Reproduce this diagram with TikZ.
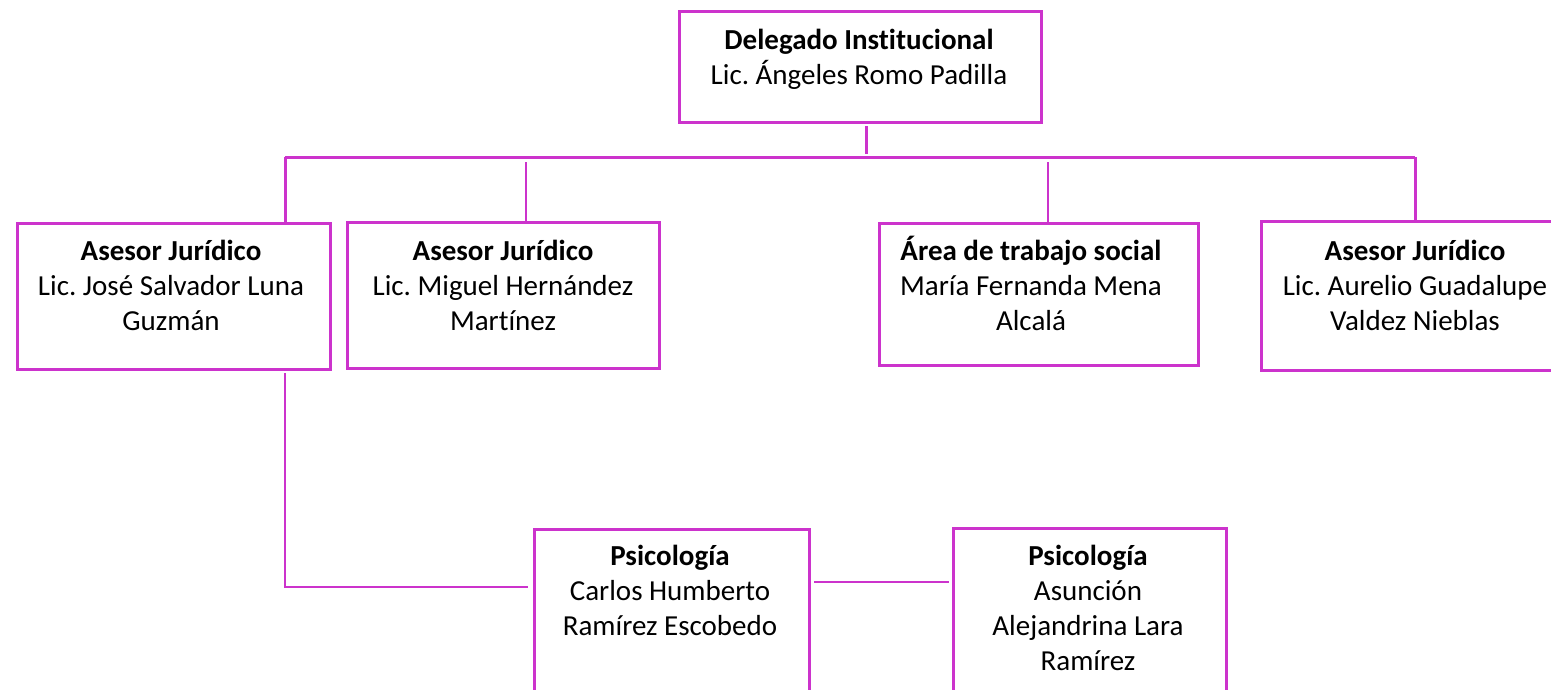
\documentclass[tikz,border=0pt]{standalone}
\usepackage{fontspec}
\setmainfont[Ligatures=NoCommon]{Carlito}
\definecolor{mag}{RGB}{204,51,204}
\begin{document}
\frenchspacing
\begin{tikzpicture}[x=1pt,y=-1pt,
  box/.style={draw=mag, line width=3pt, inner sep=0pt, anchor=north west},
  txt/.style={anchor=base, align=center, inner sep=0pt, font=\fontsize{29}{35}\selectfont},
  thick link/.style={draw=mag, line width=3pt},
  thin link/.style={draw=mag, line width=1.3pt}]
\useasboundingbox (0,0) rectangle (1551,689);
% boxes
\node[box, minimum width=362pt, minimum height=111pt] (top) at (678,10) {};
\node[box, minimum width=313pt, minimum height=146pt] (a1) at (16,222) {};
\node[box, minimum width=312pt, minimum height=146pt] (a2) at (346,221) {};
\node[box, minimum width=319pt, minimum height=142pt] (ts) at (878,222) {};
\node[box, minimum width=310pt, minimum height=149pt] (a3) at (1260,220) {};
\node[box, minimum width=275pt, minimum height=180pt] (p1) at (533,528) {};
\node[box, minimum width=273pt, minimum height=180pt] (p2) at (952,527) {};
% texts (anchor base = baseline of last line)
\node[txt] (topT) at (859,84) {\textbf{Delegado Institucional}\\Lic. Ángeles Romo Padilla};
\node[txt] (a1T) at (171,330) {\textbf{Asesor Jurídico}\\Lic. José Salvador Luna\\Guzmán};
\node[txt] (a2T) at (503,330) {\textbf{Asesor Jurídico}\\Lic. Miguel Hernández\\Martínez};
\node[txt] (tsT) at (1031,330) {\textbf{Área de trabajo social}\\María Fernanda Mena\\Alcalá};
\node[txt] (a3T) at (1415,330) {\textbf{Asesor Jurídico}\\Lic. Aurelio Guadalupe\\Valdez Nieblas};
\node[txt] (p1T) at (670,635) {\textbf{Psicología}\\Carlos Humberto\\Ramírez Escobedo};
\node[txt] (p2T) at (1088,670) {\textbf{Psicología}\\Asunción\\Alejandrina Lara\\Ramírez};
% bus coordinates
\coordinate (stubTop) at (866,126);
\coordinate (stubBot) at (866,154);
\coordinate (busL) at (285,157);
\coordinate (busR) at (1415,157);
\coordinate (d2) at (526,162);
\coordinate (d3) at (1048,162);
\coordinate (a1Down) at (285,373);
\coordinate (corner) at (285,587);
% connectors
\draw[thick link] (stubTop) -- (stubBot);
\draw[thick link] (busL) -- (busR);
\draw[thick link] (busL) -- (busL |- a1.north);
\draw[thick link] (busR) -- (busR |- a3.north);
\draw[thin link] (d2) -- (d2 |- a2.north);
\draw[thin link] (d3) -- (d3 |- ts.north);
\draw[thin link] (a1Down) -- (corner) -- ([xshift=-5pt]corner -| p1.west);
\draw[thin link] ([xshift=3pt]p1.east |- 0,582) -- ([xshift=-3pt]p2.west |- 0,582);
\end{tikzpicture}
\end{document}
